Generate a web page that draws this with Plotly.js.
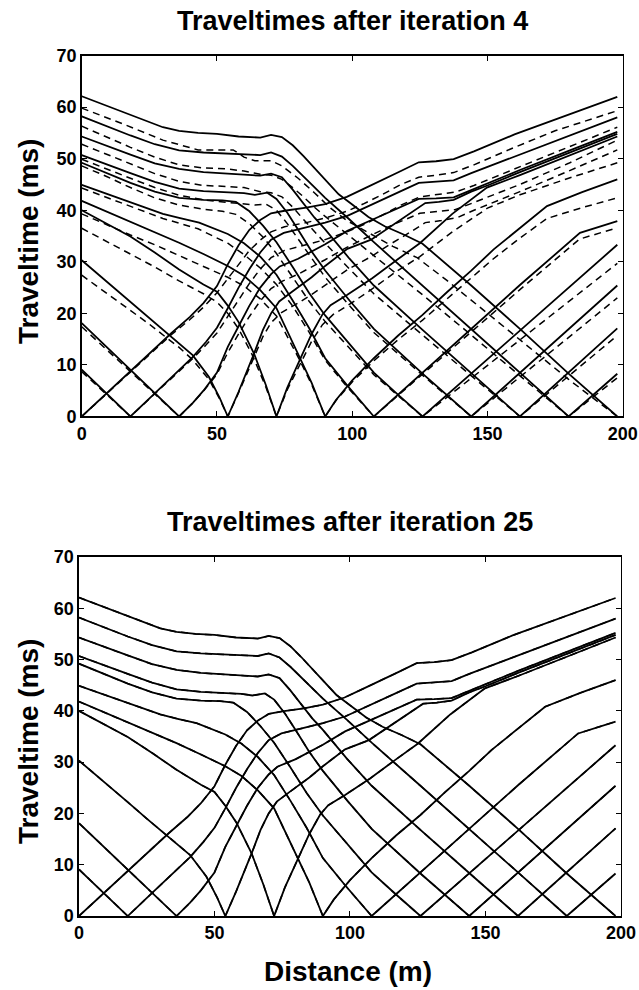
<!DOCTYPE html>
<html><head><meta charset="utf-8">
<script src="https://cdn.plot.ly/plotly-3.0.1.min.js"></script>
<style>html,body{margin:0;padding:0;background:#fff}#chart{width:639px;height:990px}</style>
</head><body><div id="chart"></div>
<script>
// Source positions (m)
const sources = [0,18,36,54,72,90,108,126,144,162,180,198];
const xTicks = [0,50,100,150,200];
const yTicks = [0,10,20,30,40,50,60,70];

// ---------- Observed traveltimes (solid) ----------
const obsX_0 = [0,10,19,27,33,40,45,50,54,58,62,66,70,75,83,90,98,104,111,118,124.6,131,137.5,145,160,175,198];
const obsT_0 = [0,4.9,9.3,13.3,16.1,19.3,22,25.3,29.5,33.2,36.2,38.1,39.4,39.9,40.5,41.2,42.6,44.1,45.8,47.6,49.3,49.5,49.9,51.4,54.7,57.6,62];
const obsX_18 = [0,18,27,36,41,46,50,54,58,62,66,70,74.7,80,90,98.2,105,112,118,124.6,131,137.5,144,162,180,198];
const obsT_18 = [9.1,0,4.5,9.0,11.5,14.5,17.2,21,25,28.6,31.8,34.3,35.6,36.3,37.6,38.9,40.5,42.2,43.7,45.3,45.5,45.8,47.2,50.8,54.5,58];
const obsX_36 = [0,36,41,45,50,54,58,62,66,70,73.2,80,90,98.2,108,116,124.6,131,137.5,144,162,180,198];
const obsT_36 = [18.1,0,2.6,5,8.5,13.5,17.5,21.5,25,27.6,29.1,30.6,33.4,36,38.3,40.2,42.2,42.3,42.5,43.9,47.8,51.5,55.2];
const obsX_54 = [0,9,18,25,32.4,36,41,47,51,54,58,63.7,67,70,73,78,85,90,98.2,107,114,120,127,132,137.5,144,150,162,180,198];
const obsT_54 = [30.3,26.3,22.2,19,15.8,14.2,11.9,7.7,3.6,0,4.8,12.2,16.8,20,22.3,24.3,27,29.2,32.5,34.3,36.8,39,41.4,41.6,42,43.6,44.8,47.4,51.1,54.8];
const obsX_72 = [0,9,18,27,36,45,50,54,58,63.7,68,72,76,81,85,89,92,98.2,107.4,116.6,125,137,149.8,162,180,198];
const obsT_72 = [40,37.4,34.9,31.8,28.5,25.6,24.2,21.5,18.3,12.2,6.2,0,5.6,11.4,16,19.8,21.6,23.6,26.8,30.4,33.6,39.3,44.4,46.8,50.6,54.3];
const obsX_90 = [0,9,18,27.4,36,45,54,60,66,72,76,81,85,90,94,100,108,117,126,135,144,152.3,162,172,185,198];
const obsT_90 = [41.8,39.8,37.7,35.6,33.7,31.5,29.2,27.3,24.5,21,16.6,11.2,6.5,0,3.2,7,11.3,15.7,19.7,24.1,28.3,32.4,36.6,40.8,43.5,46];
const obsX_108 = [0,15,30,36,43.4,54,60,66,72,78,84,90,98.2,108,126,144,162,184.2,198];
const obsT_108 = [44.9,42.1,39.3,38.5,37.6,35.4,33.6,31,27.5,22.5,17.2,11.3,6,0,8.5,17,25.5,35.6,37.9];
const obsX_126 = [0,9,18,27,36,45,52,57,62,67,72,78,84,90,99,108,117,126,198];
const obsT_126 = [49.2,47.2,45.3,43.6,42.4,42,41.9,41.6,39.8,37,33.8,29,24,19.6,14,8.5,4.2,0,33.3];
const obsX_144 = [0,9,18,27,36,45,54,60,64,68.6,72,76,80,85,90,99,108,126,144,198];
const obsT_144 = [50.7,48.9,47.2,45.5,44.2,43.7,43.5,43.3,43.0,43.4,42.2,39.5,36.2,32,28.3,22.5,17,8.3,0,25.4];
const obsX_162 = [0,9,18,27,36,45,54,62,66,70,74,78,82,86,90,99,108,126,144,162,198];
const obsT_162 = [54.3,52.5,50.8,49.1,48,47.4,47.1,46.8,46.7,47.1,46.4,44,41.2,38.6,36.3,30.6,25.4,16.8,8.4,0,17.1];
const obsX_180 = [0,9,18,27,36,45,54,62,66,70,74,78,82,86,90,99,108,126,144,162,180,198];
const obsT_180 = [58.2,56.3,54.5,52.8,51.6,51.2,51,50.7,50.7,51.2,50.4,48.6,46.6,44.5,42.4,38.2,33.8,25.4,17,8.5,0,8.3];
const obsX_198 = [0,9,18,24,30,36,43,50,58,66,70,74,78,82,86,90,95,100,106,112,119,126,144,162,180,198];
const obsT_198 = [62.1,60.3,58.4,57.2,56.1,55.4,55.0,54.8,54.3,54.1,54.6,54.2,52.6,50.5,48.2,45.9,43.1,41.1,38.7,36.9,35.3,33.5,25.4,17,8.3,0];

// ---------- Computed traveltimes after iteration 4 (dashed) ----------
const it4X_0 = [0,10,19,27,33,40,45,50,54,58,62,66,70,75,83,90,98,104,111,118,124.6,131,137.5,145,160,175,198];
const it4T_0 = [0,4.8,9.1,13,15.8,18.8,21.2,24,26.8,29.6,32.2,34.2,35.8,36.8,37.6,38.5,39.8,41.2,43,45,46.4,46.8,47.3,48.8,52.2,55.4,59.3];
const it4X_18 = [0,18,27,36,41,46,50,54,58,62,66,70,75,80,90,98,105,112,118,125,131,138,145,162,180,198];
const it4T_18 = [8.7,0,4.4,8.8,11.2,13.9,16.2,19.4,22.6,25.8,28.6,30.8,32.2,32.9,34.3,35.8,37.4,39.3,41,42.6,43,43.5,44.8,48.4,52.2,56.1];
const it4X_36 = [0,36,41,45,50,54,58,62,66,70,74,80,90,98,108,116,125,131,138,145,162,180,198];
const it4T_36 = [17.4,0,2.6,4.9,8.2,12.4,16,19.4,22.4,24.8,26.2,27.6,30.4,32.8,35.4,37.4,39.4,39.7,40.1,41.5,45,49.1,53.6];
const it4X_54 = [0,9,18,25,32,36,41,47,51,54,58,63.7,67,70,74,80,86,92,98,107,114,121,127,133,139,145,162,180,198];
const it4T_54 = [27.4,24,20.6,17.9,15,13.4,11,7.2,3.4,0,4.6,11.4,15.5,18.2,20.2,22,24,26.2,28.4,31,33.4,35.6,37.6,38,38.6,40,43.6,47.6,51.7];
const it4X_72 = [0,9,18,27,36,45,50,54,58,63,68,72,76,81,85,89,93,98,107,116,125,137,150,162,180,198];
const it4T_72 = [36.5,34,31.6,29,26.3,23.8,22.2,20,17,12,5.8,0,5.2,10.6,14.6,17.8,19.8,21.4,24.6,28,31,35.8,40.4,43,46.2,49.2];
const it4X_90 = [0,9,18,27,36,45,54,60,66,72,76,81,85,90,94,100,108,117,126,135,144,152,162,172,185,198];
const it4T_90 = [39.3,37.2,35.2,33.3,31.2,29.1,27,25.3,22.8,19.5,15.6,10.5,6.2,0,3.1,6.7,10.8,14.9,18.7,22.8,26.8,30.5,34.6,38.4,40.5,42.4];
const it4X_108 = [0,15,30,36,43,54,60,66,72,78,84,90,98,108,126,144,162,184,198];
const it4T_108 = [44.3,41.4,38.4,37.5,36.4,33.6,31.4,28.8,25.6,21.4,16.4,10.9,5.8,0,8.2,16.4,24.6,34.4,36.6];
const it4X_126 = [0,9,18,27,36,45,52,57,62,67,72,78,84,90,99,108,117,126,198];
const it4T_126 = [48.6,46.6,44.4,42.4,41,40.2,39.8,39.2,37.4,34.8,31.6,27,22.4,18.4,13.2,8.1,4,0,29.7];
const it4X_144 = [0,9,18,27,36,45,54,60,64,68,72,76,80,85,90,99,108,126,144,198];
const it4T_144 = [49.9,48,46.2,44.4,42.9,42,41.5,41.2,41,41.2,40,37.4,34.4,30.5,27,21.5,16.3,8,0,23];
const it4X_162 = [0,9,18,27,36,45,54,60,66,70,74,78,82,86,90,99,108,126,144,162,198];
const it4T_162 = [52.8,50.9,49,47.1,45.6,44.8,44.6,44.4,43.6,43.4,42.6,40.6,38.2,35.8,33.6,28.6,23.8,15.8,7.9,0,15.7];
const it4X_180 = [0,9,18,27,36,45,54,60,66,70,74,78,82,86,90,99,108,126,144,162,180,198];
const it4T_180 = [56.3,54.2,52.2,50.3,48.8,48.2,48,47.6,47,46.8,46,44.4,42.6,40.6,38.8,35,31.2,23.6,15.8,7.9,0,7.5];
const it4X_198 = [0,15,30,43,56,60,64,70,74,80,86,92,98,106,115,124,135,150,165,180,198];
const it4T_198 = [59.8,56.8,53.6,51.7,51.7,50.3,49.6,49.6,48.6,46.2,43.4,40.4,38,35.6,33,30.8,26.4,20,13.6,7.2,0];

// ---------- Assemble ----------
const obsX = [obsX_0,obsX_18,obsX_36,obsX_54,obsX_72,obsX_90,obsX_108,obsX_126,obsX_144,obsX_162,obsX_180,obsX_198];
const obsT = [obsT_0,obsT_18,obsT_36,obsT_54,obsT_72,obsT_90,obsT_108,obsT_126,obsT_144,obsT_162,obsT_180,obsT_198];
const it4X = [it4X_0,it4X_18,it4X_36,it4X_54,it4X_72,it4X_90,it4X_108,it4X_126,it4X_144,it4X_162,it4X_180,it4X_198];
const it4T = [it4T_0,it4T_18,it4T_36,it4T_54,it4T_72,it4T_90,it4T_108,it4T_126,it4T_144,it4T_162,it4T_180,it4T_198];
// After iteration 25 the computed times coincide with the observed ones
const it25X = obsX, it25T = obsT;

const data = [];
function addSet(xs, ts, xa, ya, dashed) {
  for (let i = 0; i < xs.length; i++) {
    data.push({
      type: 'scatter', mode: 'lines', x: xs[i], y: ts[i], xaxis: xa, yaxis: ya,
      name: (dashed ? 'computed ' : 'observed ') + sources[i] + ' m',
      line: {color: '#000', width: dashed ? 1.5 : 1.8, dash: dashed ? '7px,5px' : 'solid'},
      hoverinfo: 'skip'
    });
  }
}
addSet(it4X, it4T, 'x', 'y', true);
addSet(obsX, obsT, 'x', 'y', false);
addSet(it25X, it25T, 'x2', 'y2', true);
addSet(obsX, obsT, 'x2', 'y2', false);

const FONT = 'Liberation Sans, Arial, Helvetica, sans-serif';
const tickFont = {family: FONT, size: 18, color: '#000', weight: 'bold'};
function xAxis(domain, anchor) {
  return {domain, anchor, range: [0, 200], tickvals: xTicks, ticktext: xTicks.map(String),
    ticks: 'inside', ticklen: 5, tickwidth: 1, tickcolor: '#000',
    showline: true, linecolor: '#000', linewidth: 1.5, mirror: 'ticks',
    showgrid: false, zeroline: false, tickfont: tickFont, fixedrange: true};
}
function yAxis(domain, anchor) {
  return {domain, anchor, range: [0, 70], tickvals: yTicks, ticktext: yTicks.map(String),
    ticks: 'inside', ticklen: 5, tickwidth: 1, tickcolor: '#000',
    showline: true, linecolor: '#000', linewidth: 1.5, mirror: 'ticks',
    showgrid: false, zeroline: false, tickfont: tickFont, fixedrange: true};
}
const bigFont = {family: FONT, size: 27, color: '#000', weight: 'bold'};
const labFont = {family: FONT, size: 28, color: '#000', weight: 'bold'};
const layout = {
  width: 639, height: 990, margin: {l: 0, r: 0, t: 0, b: 0},
  paper_bgcolor: '#fff', plot_bgcolor: '#fff', showlegend: false,
  xaxis: xAxis([0.1279, 0.9745], 'y'),
  yaxis: yAxis([0.5793, 0.9439], 'x'),
  xaxis2: xAxis([0.1236, 0.9718], 'y2'),
  yaxis2: yAxis([0.0747, 0.4374], 'x2'),
  annotations: [
    {text: 'Traveltimes after iteration 4', xref: 'paper', yref: 'paper', x: 0.5509, y: 0.9788,
     xanchor: 'center', yanchor: 'middle', showarrow: false, font: bigFont},
    {text: 'Traveltimes after iteration 25', xref: 'paper', yref: 'paper', x: 0.5477, y: 0.4732,
     xanchor: 'center', yanchor: 'middle', showarrow: false, font: bigFont},
    {text: 'Traveltime (ms)', xref: 'paper', yref: 'paper', x: 0.0446, y: 0.756,
     xanchor: 'center', yanchor: 'middle', textangle: -90, showarrow: false, font: labFont},
    {text: 'Traveltime (ms)', xref: 'paper', yref: 'paper', x: 0.0446, y: 0.251,
     xanchor: 'center', yanchor: 'middle', textangle: -90, showarrow: false, font: labFont},
    {text: 'Distance (m)', xref: 'paper', yref: 'paper', x: 0.5446, y: 0.0182,
     xanchor: 'center', yanchor: 'middle', showarrow: false, font: labFont}
  ]
};
Plotly.newPlot('chart', data, layout, {staticPlot: true, displayModeBar: false});
</script>
</body></html>
